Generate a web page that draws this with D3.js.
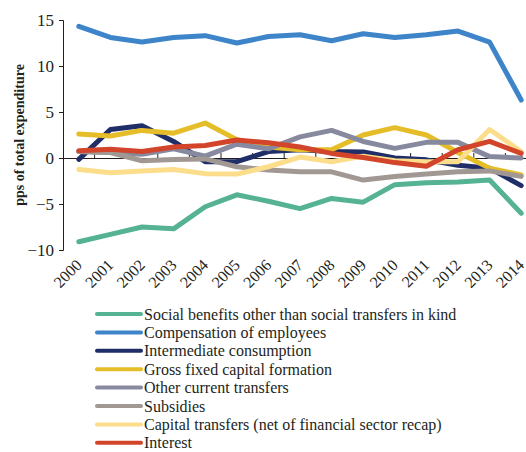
<!DOCTYPE html>
<html lang="en">
<head>
    <meta charset="UTF-8"/>
    <title>Expenditure components</title>
    <script src="https://d3js.org/d3.v7.min.js"></script>
    <style>
        body { margin: 0; background: #fff; }
        text { font-family: "Liberation Serif", "Times New Roman", serif; fill: #231f20; }
    </style>
</head>
<body>
<script>

    var w = 526;
    var h = 452;

    // years on the x axis
    var years = ["2000","2001","2002","2003","2004","2005","2006","2007",
                 "2008","2009","2010","2011","2012","2013","2014"];

    var yTicks = [-10, -5, 0, 5, 10, 15];

    // series, pps of total expenditure
    var socialBenefits = [-9.1, -8.3, -7.5, -7.7, -5.3, -4.0, -4.7, -5.5, -4.4, -4.8, -2.9, -2.7, -2.6, -2.4, -6.0];
    var compensation   = [14.3, 13.1, 12.6, 13.1, 13.3, 12.5, 13.2, 13.4, 12.75, 13.5, 13.1, 13.4, 13.8, 12.6, 6.3];
    var intermediate   = [-0.15, 3.1, 3.5, 1.8, -0.4, -0.4, 0.7, 0.9, 0.7, 0.65, 0.0, -0.2, -0.8, -1.1, -3.0];
    var grossFixed     = [2.6, 2.4, 3.0, 2.7, 3.8, 2.0, 1.2, 0.9, 0.9, 2.5, 3.3, 2.5, 0.6, -1.1, -1.85];
    var otherTransfers = [0.7, 0.6, 0.4, 1.0, 0.2, 1.5, 1.0, 2.3, 3.0, 1.8, 1.05, 1.7, 1.7, 0.15, 0.0];
    var subsidies      = [0.7, 0.6, -0.3, -0.15, -0.1, -0.95, -1.3, -1.5, -1.5, -2.4, -2.0, -1.75, -1.5, -1.4, -2.0];
    var capTransfers   = [-1.25, -1.6, -1.4, -1.25, -1.7, -1.75, -0.95, 0.1, -0.4, 0.2, -0.3, -0.4, -0.4, 3.1, 0.7];
    var interest       = [0.8, 0.95, 0.7, 1.2, 1.35, 1.95, 1.65, 1.2, 0.5, 0.05, -0.5, -0.9, 0.9, 1.8, 0.5];

    var seriesNames = ["Social benefits other than social transfers in kind",
                       "Compensation of employees",
                       "Intermediate consumption",
                       "Gross fixed capital formation",
                       "Other current transfers",
                       "Subsidies",
                       "Capital transfers (net of financial sector recap)",
                       "Interest"];
    var seriesValues = [socialBenefits, compensation, intermediate, grossFixed,
                        otherTransfers, subsidies, capTransfers, interest];
    var seriesColors = ["#55b293", "#3d84c9", "#1f2d68", "#e5bd29",
                        "#878a9f", "#a19893", "#fbdd8b", "#d2452a"];

    var svg = d3.select("body")
                .append("svg")
                .attr("width", w)
                .attr("height", h);

    var xScale = d3.scaleBand()
                    .domain(years)
                    .range([63, 537]);

    var yScale = d3.scaleLinear()
                    .domain([-10, 15])
                    .range([250, 20]);

    // y axis
    var yAxis = d3.axisLeft(yScale)
                  .tickValues(yTicks)
                  .tickSize(4)
                  .tickPadding(5)
                  .tickFormat(d3.format("d"));

    var gy = svg.append("g")
        .attr("transform", "translate(63,0)")
        .call(yAxis);
    gy.select(".domain").attr("stroke", "#231f20");
    gy.selectAll(".tick line").attr("stroke", "#231f20");
    gy.selectAll("text")
        .style("font-size", "17px")
        .style("font-family", "Liberation Serif");

    // x axis on the zero line, ticks pointing up
    var xAxis = d3.axisTop(xScale)
                  .tickSize(0)
                  .tickFormat("");

    var gx = svg.append("g")
        .attr("transform", "translate(0," + yScale(0) + ")")
        .call(xAxis);
    gx.select(".domain").attr("stroke", "#231f20");

    // band boundary ticks
    svg.selectAll(".bandTick")
        .data(years.slice(1))
        .enter()
        .append("line")
        .attr("class", "bandTick")
        .attr("x1", function(d){ return xScale(d); })
        .attr("x2", function(d){ return xScale(d); })
        .attr("y1", yScale(0))
        .attr("y2", yScale(0) - 5)
        .attr("stroke", "#231f20");

    // year labels below the plot
    svg.selectAll(".yearLabel")
        .data(years)
        .enter()
        .append("text")
        .attr("class", "yearLabel")
        .attr("text-anchor", "end")
        .attr("transform", function(d){
            var x = xScale(d) + xScale.bandwidth() / 2 + 4;
            return "translate(" + x + ",266) rotate(-45)";
        })
        .style("font-size", "16px")
        .text(function(d){ return d; });

    // y title
    svg.append("text")
        .attr("text-anchor", "middle")
        .attr("transform", "translate(24,135) rotate(-90)")
        .style("font-size", "14px")
        .style("font-weight", "bold")
        .text("pps of total expenditure");

    // lines
    var line = d3.line()
        .x(function(d, i){ return xScale(years[i]) + xScale.bandwidth() / 2; })
        .y(function(d){ return yScale(d); });

    svg.selectAll(".series")
        .data(seriesValues)
        .enter()
        .append("path")
        .attr("class", "series")
        .attr("d", function(d){ return line(d); })
        .attr("fill", "none")
        .attr("stroke", function(d, i){ return seriesColors[i]; })
        .attr("stroke-width", 5)
        .attr("stroke-linecap", "round")
        .attr("stroke-linejoin", "round");

    // legend
    var legend = svg.selectAll(".legend")
        .data(seriesNames)
        .enter()
        .append("g")
        .attr("class", "legend")
        .attr("transform", function(d, i){ return "translate(0," + (314 + i * 18.4) + ")"; });

    legend.append("line")
        .attr("x1", 97)
        .attr("x2", 141)
        .attr("stroke", function(d, i){ return seriesColors[i]; })
        .attr("stroke-width", 4)
        .attr("stroke-linecap", "round");

    legend.append("text")
        .attr("x", 144)
        .attr("dy", "0.35em")
        .style("font-size", "16px")
        .text(function(d){ return d; });

</script>
</body>
</html>
